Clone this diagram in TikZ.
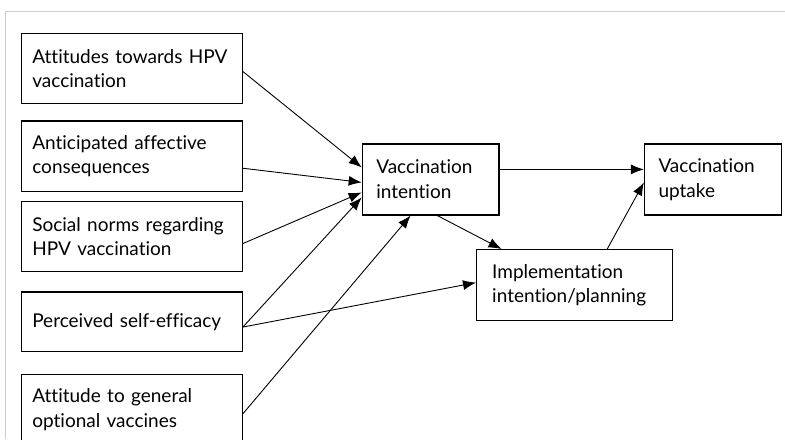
\documentclass[tikz,border=0pt]{standalone}
\usepackage{fontspec}
\setmainfont{Lato}[Ligatures=NoCommon]
\usetikzlibrary{arrows.meta,positioning}

\begin{document}
\begin{tikzpicture}[x=0.5pt,y=-0.5pt,>={Latex[length=6.5pt,width=5pt]},
  every node/.style={font=\fontsize{9.5}{12.35}\selectfont},
  factor/.style={draw,line width=0.6pt,align=left,anchor=north west,inner xsep=5.5pt,text width=99.5pt,minimum height=35.25pt},
  outcome/.style={draw,line width=0.6pt,align=left,inner xsep=7pt,text width=54.3pt,minimum height=35.5pt}]
  \useasboundingbox (0,0) rectangle (785,439);
  \draw[black!20,line width=0.75pt] (5.5,439) -- (5.5,11.5) -- (785,11.5);

  \node[factor]                    (f_1) at (20.7,32.7)     {Attitudes towards HPV\\vaccination};
  \node[factor]                    (f_2) [below=8pt of f_1]   {Anticipated affective\\consequences};
  \node[factor]                    (f_3) [below=4.3pt of f_2] {Social norms regarding\\HPV vaccination};
  \node[factor,minimum height=29.65pt] (f_4) [below=9.5pt of f_3] {Perceived self-efficacy};
  \node[factor]                    (f_5) [below=11pt of f_4]  {Attitude to general\\optional vaccines};

  \node[outcome,anchor=north west] (v_1) at (361.7,143.3)   {Vaccination\\intention};
  \node[outcome]                   (v_2) [right=72.2pt of v_1] {Vaccination\\uptake};
  \node[outcome,anchor=north west,inner xsep=7.8pt,text width=82.5pt] (p_1) at (476,249) {Implementation\\intention/planning};

  \path[->,line width=0.45pt]
  ([yshift=-1.5pt]f_1.east) edge ([yshift=6pt]v_1.west)
  ([yshift=-6pt]f_2.east)   edge ([yshift=-1.5pt]v_1.west)
  ([yshift=-3.5pt]f_3.east) edge ([yshift=-6.5pt]v_1.west)
  ([yshift=-2.7pt]f_4.east) edge ([yshift=-9pt]v_1.west)
  ([yshift=-2.7pt]f_4.east) edge ([yshift=1.25pt]p_1.west)
  ([yshift=-2pt]f_5.east)   edge ([xshift=-10pt]v_1.south)
  ([yshift=5pt]v_1.east)    edge ([yshift=5pt]v_2.west)
  ([xshift=3.3pt]v_1.south) edge ([xshift=-36.6pt]p_1.north)
  ([xshift=16.25pt]p_1.north) edge ([yshift=-1.5pt]v_2.west);
\end{tikzpicture}
\end{document}
